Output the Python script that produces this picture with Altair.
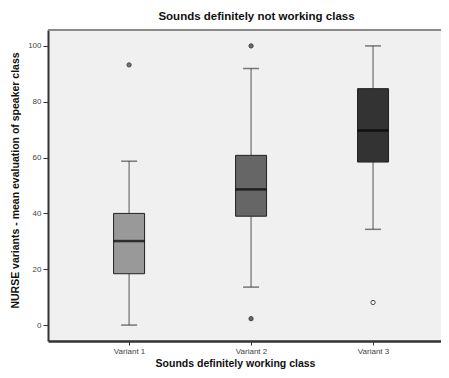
import altair as alt
import pandas as pd

variants = ["Variant 1", "Variant 2", "Variant 3"]
whisk_low = [0, 13.6, 34.3]
q1 = [18.4, 39.0, 58.4]
median = [30.1, 48.6, 69.7]
q3 = [40.0, 60.8, 84.7]
whisk_high = [58.7, 91.9, 100]
box_colors = ["#999999", "#666666", "#333333"]

out_variant = ["Variant 1", "Variant 2", "Variant 2", "Variant 3"]
out_value = [93.2, 100, 2.3, 8.1]
out_fill = ["#777777", "#666666", "#666666", "#ffffff"]

box_df = pd.DataFrame({
    "variant": variants, "lo": whisk_low, "q1": q1, "med": median,
    "q3": q3, "hi": whisk_high, "color": box_colors,
})
out_df = pd.DataFrame({"variant": out_variant, "value": out_value, "fill": out_fill})

FONT = "Liberation Sans"
W = 393
H = 311

xscale = alt.Scale(domain=variants, type="point", padding=0.611, align=0.544)
yscale = alt.Scale(domain=[-5.7, 105.7], nice=False, zero=False)

xenc = alt.X("variant:N", scale=xscale, sort=variants,
             axis=alt.Axis(title="Sounds definitely working class", labelAngle=0,
                           labelFontSize=8, labelColor="#444444", labelFont=FONT,
                           tickColor="#333333", tickSize=4, labelPadding=2,
                           domainColor="#333333", domainWidth=2.5,
                           titleFont=FONT, titleFontSize=10.5, titleFontWeight="bold",
                           titleColor="#111111", titleX=187, titleY=22,
                           titleAlign="center", titleBaseline="middle"))

yaxis = alt.Axis(title="NURSE variants - mean evaluation of speaker class",
                 values=[0, 20, 40, 60, 80, 100], grid=False,
                 labelFontSize=8, labelColor="#444444", labelFont=FONT,
                 tickColor="#333333", tickSize=5, labelPadding=2,
                 domainColor="#333333", domainWidth=2,
                 titleFont=FONT, titleFontSize=10.5, titleFontWeight="bold",
                 titleColor="#111111", titleX=-33, titleY=150,
                 titleAngle=270, titleAlign="center", titleBaseline="middle")

base = alt.Chart(box_df)

whisker = base.mark_rule(color="#555555", strokeWidth=1).encode(
    x=xenc,
    y=alt.Y("lo:Q", scale=yscale, axis=yaxis),
    y2="hi:Q",
)
caps_lo = base.mark_tick(color="#444444", thickness=1.5, size=16, orient="horizontal").encode(
    x=alt.X("variant:N", scale=xscale, sort=variants), y=alt.Y("lo:Q", scale=yscale))
caps_hi = base.mark_tick(color="#444444", thickness=1.5, size=16, orient="horizontal").encode(
    x=alt.X("variant:N", scale=xscale, sort=variants), y=alt.Y("hi:Q", scale=yscale))
boxes = base.mark_bar(size=31, stroke="#222222", strokeWidth=1).encode(
    x=alt.X("variant:N", scale=xscale, sort=variants),
    y=alt.Y("q1:Q", scale=yscale), y2="q3:Q",
    fill=alt.Fill("color:N", scale=None),
)
meds = base.mark_tick(color="#000000", thickness=2.5, size=31, orient="horizontal").encode(
    x=alt.X("variant:N", scale=xscale, sort=variants), y=alt.Y("med:Q", scale=yscale))
outs = alt.Chart(out_df).mark_point(shape="circle", size=18, filled=True,
                                    stroke="#444444", strokeWidth=1, opacity=1).encode(
    x=alt.X("variant:N", scale=xscale, sort=variants),
    y=alt.Y("value:Q", scale=yscale),
    fill=alt.Fill("fill:N", scale=None),
)
top_line = alt.Chart(box_df).mark_rule(color="#8a8a8a", strokeWidth=2).encode(
    x=alt.value(0), x2=alt.value(W), y=alt.value(0))

chart = alt.layer(whisker, caps_lo, caps_hi, boxes, meds, outs, top_line).properties(
    width=W, height=H,
    title=alt.TitleParams("Sounds definitely not working class", font=FONT, fontSize=11.5,
                          fontWeight="bold", color="#111111", dx=12, offset=7),
    autosize=alt.AutoSizeParams(type="none"),
    padding={"left": 40, "top": 22, "right": 0, "bottom": 37},
    background="#ffffff",
).configure_view(fill="#f0f0f0", stroke=None)

chart.save("out.html", embed_options={"renderer": "svg", "actions": False})
